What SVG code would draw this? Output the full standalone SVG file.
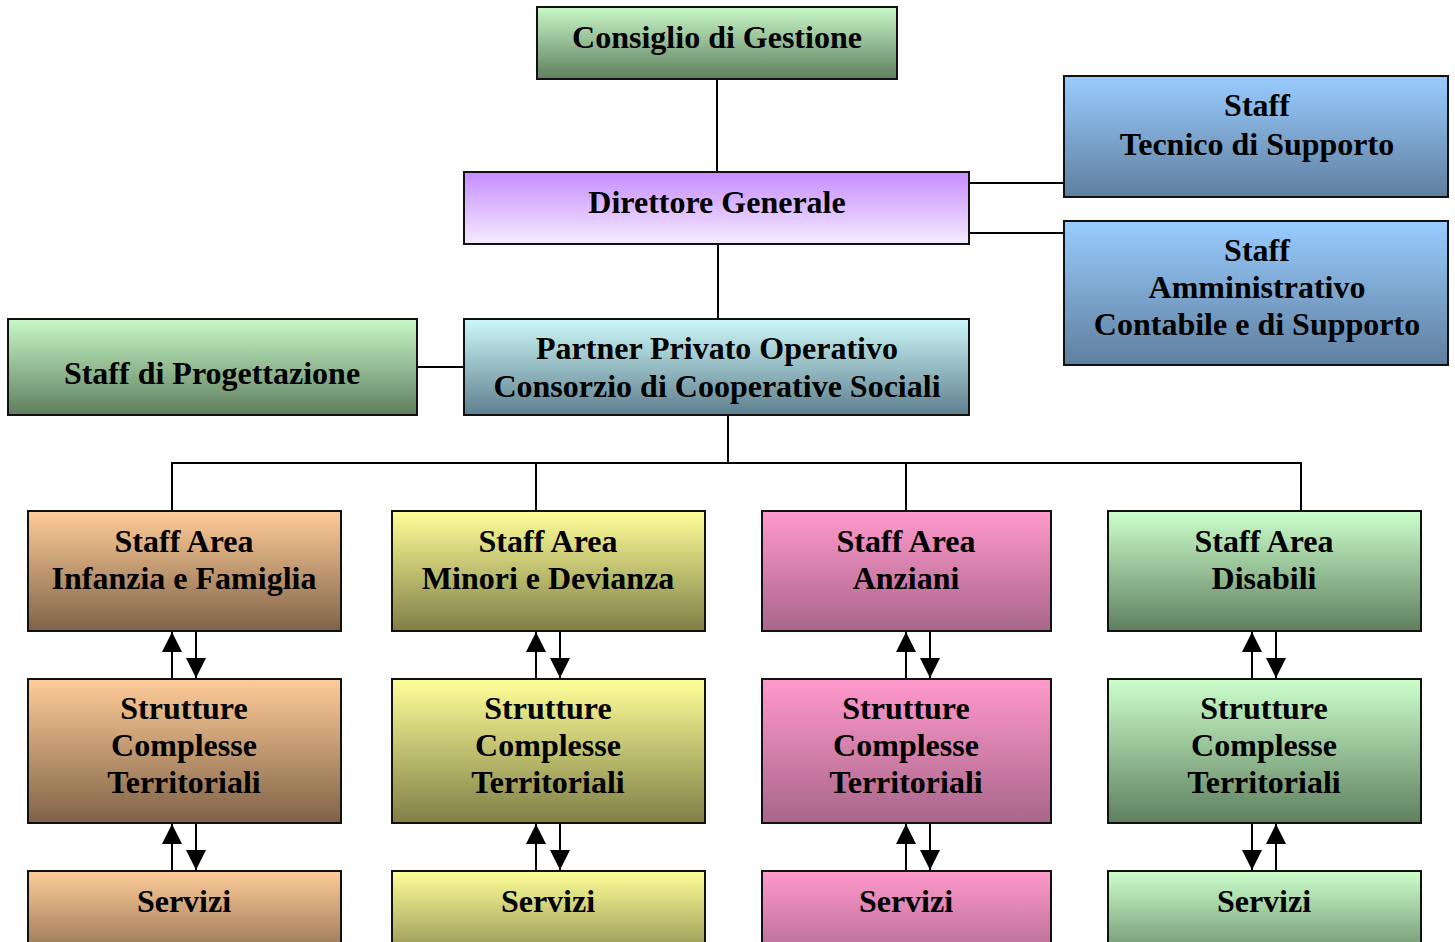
<svg xmlns="http://www.w3.org/2000/svg" width="1455" height="942" viewBox="0 0 1455 942">
<style>
.b{stroke:#111;stroke-width:2}
.t{font-family:"Liberation Serif","Times New Roman",serif;font-weight:bold;font-size:32px;fill:#000;text-anchor:middle}
.c{stroke:#000;stroke-width:2;fill:none}
</style>
<defs>
<linearGradient id="gG" x1="0" y1="0" x2="0" y2="1"><stop offset="0" stop-color="#c8f8c8"/><stop offset="1" stop-color="#5f7e5f"/></linearGradient>
<linearGradient id="gP" x1="0" y1="0" x2="0" y2="1"><stop offset="0" stop-color="#c68cff"/><stop offset="1" stop-color="#f5ecff"/></linearGradient>
<linearGradient id="gB" x1="0" y1="0" x2="0" y2="1"><stop offset="0" stop-color="#99ccff"/><stop offset="1" stop-color="#5f7f9e"/></linearGradient>
<linearGradient id="gC" x1="0" y1="0" x2="0" y2="1"><stop offset="0" stop-color="#ccf8f8"/><stop offset="1" stop-color="#5f7f8e"/></linearGradient>
<linearGradient id="gO" x1="0" y1="0" x2="0" y2="1"><stop offset="0" stop-color="#ffcc99"/><stop offset="1" stop-color="#7f6347"/></linearGradient>
<linearGradient id="gY" x1="0" y1="0" x2="0" y2="1"><stop offset="0" stop-color="#ffff99"/><stop offset="1" stop-color="#7f7f47"/></linearGradient>
<linearGradient id="gK" x1="0" y1="0" x2="0" y2="1"><stop offset="0" stop-color="#ff99cc"/><stop offset="1" stop-color="#a8668a"/></linearGradient>
<linearGradient id="gD" x1="0" y1="0" x2="0" y2="1"><stop offset="0" stop-color="#ccffcc"/><stop offset="1" stop-color="#5f7f5f"/></linearGradient>
<marker id="ah" viewBox="0 0 20 20" refX="20" refY="10" markerWidth="20" markerHeight="20" markerUnits="userSpaceOnUse" orient="auto"><path d="M0,0 L20,10 L0,20 Z" fill="#000"/></marker>
</defs>

<g id="connectors">
<path class="c" d="M717,79 V172"/>
<path class="c" d="M718,244 V319"/>
<path class="c" d="M969,183 H1064"/>
<path class="c" d="M969,233 H1064"/>
<path class="c" d="M417,367 H464"/>
<path class="c" d="M728,415 V463 M172,511 V463 H1301 V511 M536,463 V511 M906,463 V511"/>
<g marker-end="url(#ah)">
<path class="c" d="M172,679 V632"/><path class="c" d="M196,631 V678"/>
<path class="c" d="M536,679 V632"/><path class="c" d="M560,631 V678"/>
<path class="c" d="M906,679 V632"/><path class="c" d="M930,631 V678"/>
<path class="c" d="M1252,679 V632"/><path class="c" d="M1276,631 V678"/>
<path class="c" d="M172,871 V824"/><path class="c" d="M196,823 V870"/>
<path class="c" d="M536,871 V824"/><path class="c" d="M560,823 V870"/>
<path class="c" d="M906,871 V824"/><path class="c" d="M930,823 V870"/>
<path class="c" d="M1252,823 V870"/><path class="c" d="M1276,871 V824"/>
</g>
</g>

<g id="consiglio"><rect class="b" x="537" y="7" width="360" height="72" fill="url(#gG)"/><text class="t" x="717" y="48">Consiglio di Gestione</text></g>
<g id="direttore"><rect class="b" x="464" y="172" width="505" height="72" fill="url(#gP)"/><text class="t" x="717" y="213">Direttore Generale</text></g>
<g id="staff-tecnico"><rect class="b" x="1064" y="76" width="384" height="121" fill="url(#gB)"/><text class="t" x="1257" y="116">Staff</text><text class="t" x="1257" y="155">Tecnico di Supporto</text></g>
<g id="staff-amm"><rect class="b" x="1064" y="221" width="384" height="144" fill="url(#gB)"/><text class="t" x="1257" y="261">Staff</text><text class="t" x="1257" y="298">Amministrativo</text><text class="t" x="1257" y="335">Contabile e di Supporto</text></g>
<g id="staff-prog"><rect class="b" x="8" y="319" width="409" height="96" fill="url(#gG)"/><text class="t" x="212" y="384">Staff di Progettazione</text></g>
<g id="partner"><rect class="b" x="464" y="319" width="505" height="96" fill="url(#gC)"/><text class="t" x="717" y="359">Partner Privato Operativo</text><text class="t" x="717" y="397">Consorzio di Cooperative Sociali</text></g>

<g id="area-infanzia"><rect class="b" x="28" y="511" width="313" height="120" fill="url(#gO)"/><text class="t" x="184" y="552">Staff Area</text><text class="t" x="184" y="589">Infanzia e Famiglia</text></g>
<g id="area-minori"><rect class="b" x="392" y="511" width="313" height="120" fill="url(#gY)"/><text class="t" x="548" y="552">Staff Area</text><text class="t" x="548" y="589">Minori e Devianza</text></g>
<g id="area-anziani"><rect class="b" x="762" y="511" width="289" height="120" fill="url(#gK)"/><text class="t" x="906" y="552">Staff Area</text><text class="t" x="906" y="589">Anziani</text></g>
<g id="area-disabili"><rect class="b" x="1108" y="511" width="313" height="120" fill="url(#gD)"/><text class="t" x="1264" y="552">Staff Area</text><text class="t" x="1264" y="589">Disabili</text></g>

<g id="strutture-1"><rect class="b" x="28" y="679" width="313" height="144" fill="url(#gO)"/><text class="t" x="184" y="719">Strutture</text><text class="t" x="184" y="756">Complesse</text><text class="t" x="184" y="793">Territoriali</text></g>
<g id="strutture-2"><rect class="b" x="392" y="679" width="313" height="144" fill="url(#gY)"/><text class="t" x="548" y="719">Strutture</text><text class="t" x="548" y="756">Complesse</text><text class="t" x="548" y="793">Territoriali</text></g>
<g id="strutture-3"><rect class="b" x="762" y="679" width="289" height="144" fill="url(#gK)"/><text class="t" x="906" y="719">Strutture</text><text class="t" x="906" y="756">Complesse</text><text class="t" x="906" y="793">Territoriali</text></g>
<g id="strutture-4"><rect class="b" x="1108" y="679" width="313" height="144" fill="url(#gD)"/><text class="t" x="1264" y="719">Strutture</text><text class="t" x="1264" y="756">Complesse</text><text class="t" x="1264" y="793">Territoriali</text></g>

<g id="servizi-1"><rect class="b" x="28" y="871" width="313" height="100" fill="url(#gO)"/><text class="t" x="184" y="912">Servizi</text></g>
<g id="servizi-2"><rect class="b" x="392" y="871" width="313" height="100" fill="url(#gY)"/><text class="t" x="548" y="912">Servizi</text></g>
<g id="servizi-3"><rect class="b" x="762" y="871" width="289" height="100" fill="url(#gK)"/><text class="t" x="906" y="912">Servizi</text></g>
<g id="servizi-4"><rect class="b" x="1108" y="871" width="313" height="100" fill="url(#gD)"/><text class="t" x="1264" y="912">Servizi</text></g>
</svg>
